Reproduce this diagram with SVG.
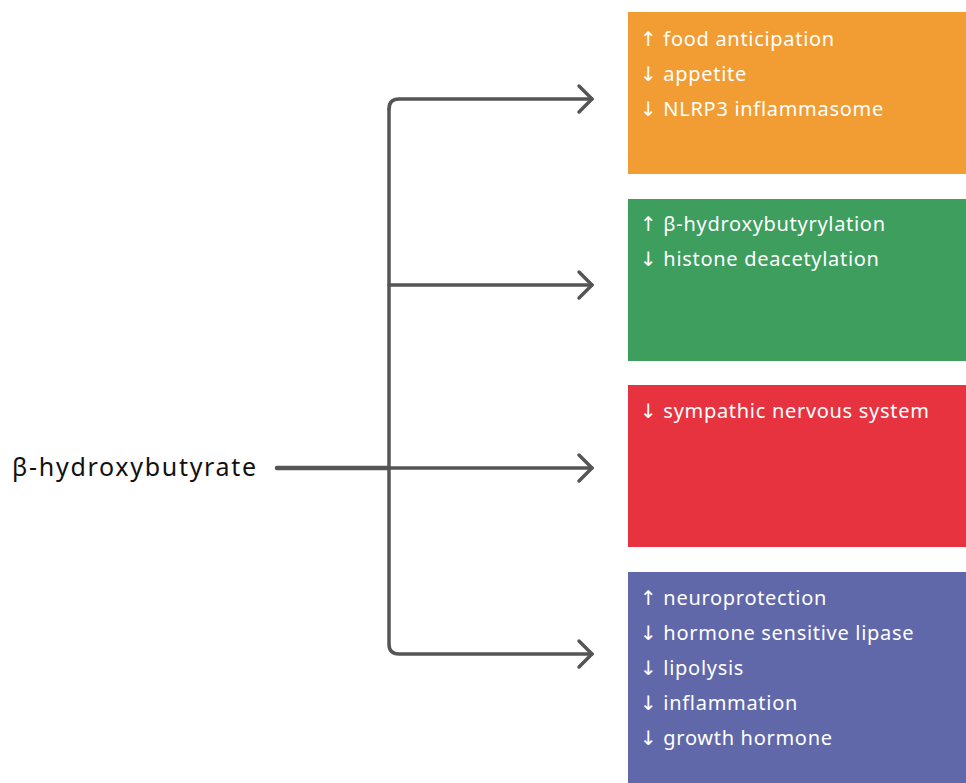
<svg xmlns="http://www.w3.org/2000/svg" width="966" height="783" viewBox="0 0 966 783">
<style>
.t{font-family:"Noto Sans","Open Sans","DejaVu Sans",sans-serif;font-size:20px;letter-spacing:0.7px;fill:#fff}
.title{font-family:"Noto Sans","Open Sans","DejaVu Sans",sans-serif;font-size:25px;letter-spacing:1.7px;fill:#111}
.c{fill:none;stroke:#555;stroke-width:3.5;stroke-linecap:round;stroke-linejoin:round}
</style>
<rect width="966" height="783" fill="#fff"/>
<g id="source"><text class="title" x="12" y="476">β-hydroxybutyrate</text></g>
<g id="connectors">
<path class="c" d="M277 468 H389" style="stroke-width:4.5"/>
<path class="c" d="M389 109 Q389 99 399 99 H592"/>
<path class="c" d="M389 109 V644 Q389 654 399 654 H592"/>
<path class="c" d="M389 285 H592"/>
<path class="c" d="M389 468 H592"/>
<path class="c" d="M579 86 L592 99 L579 112"/>
<path class="c" d="M579 272 L592 285 L579 298"/>
<path class="c" d="M579 455 L592 468 L579 481"/>
<path class="c" d="M579 641 L592 654 L579 667"/>
</g>
<g id="orange"><rect x="628" y="12" width="338" height="162" fill="#F29D33"/>
<text class="t" x="640" y="46">↑ food anticipation</text>
<text class="t" x="640" y="81">↓ appetite</text>
<text class="t" x="640" y="116">↓ NLRP3 inflammasome</text></g>
<g id="green"><rect x="628" y="199" width="338" height="162" fill="#3E9E5E"/>
<text class="t" x="640" y="231">↑ β-hydroxybutyrylation</text>
<text class="t" x="640" y="266">↓ histone deacetylation</text></g>
<g id="red"><rect x="628" y="385" width="338" height="162" fill="#E6333F"/>
<text class="t" x="640" y="418">↓ sympathic nervous system</text></g>
<g id="purple"><rect x="628" y="572" width="338" height="211" fill="#6168AA"/>
<text class="t" x="640" y="605">↑ neuroprotection</text>
<text class="t" x="640" y="640">↓ hormone sensitive lipase</text>
<text class="t" x="640" y="675">↓ lipolysis</text>
<text class="t" x="640" y="710">↓ inflammation</text>
<text class="t" x="640" y="745">↓ growth hormone</text></g>
</svg>
